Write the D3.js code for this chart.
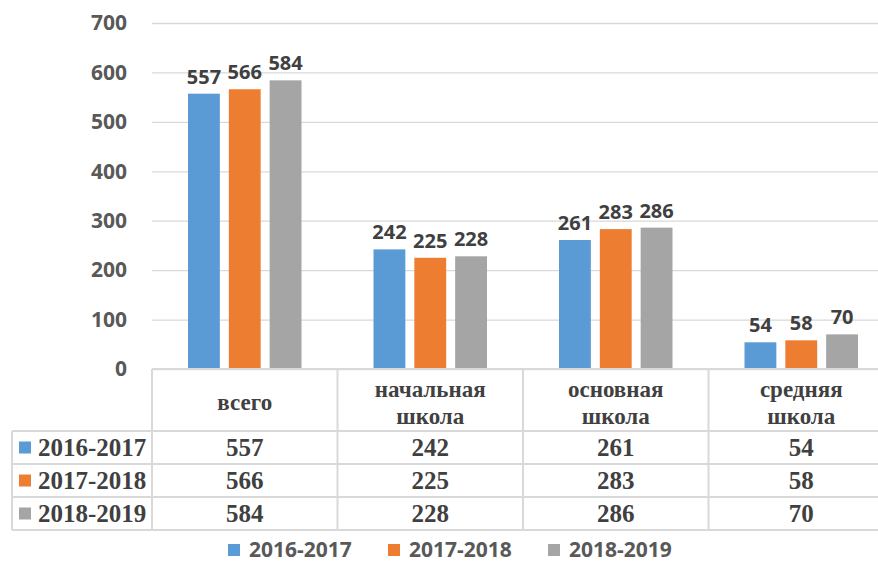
<!DOCTYPE html>
<html>
<head>
<meta charset="utf-8">
<script src="https://cdn.jsdelivr.net/npm/d3@7"></script>
<style>
  body { margin: 0; background: #fff; }
  svg { display: block; }
</style>
</head>
<body>
<div id="container"></div>
<script>
'use strict';
(function() {
    // chart data
    var categories = ['всего', 'начальная школа', 'основная школа', 'средняя школа'];
    var categoryLines = [['всего'], ['начальная', 'школа'], ['основная', 'школа'], ['средняя', 'школа']];
    var seriesNames = ['2016-2017', '2017-2018', '2018-2019'];
    var values2016 = [557, 242, 261, 54];
    var values2017 = [566, 225, 283, 58];
    var values2018 = [584, 228, 286, 70];
    var yTicks = [0, 100, 200, 300, 400, 500, 600, 700];
    var colors = ['#5B9BD5', '#ED7D31', '#A5A5A5'];

    var allValues = [values2016, values2017, values2018];

    var width = 878, height = 565;
    var plotLeft = 152, plotTop = 23, plotBottom = 369;
    var catWidth = 185.5;
    var rowH = 33, headerBottom = 431, tableLeft = 12;
    var lineColor = '#d9d9d9';
    var sansFont = '"Open Sans", sans-serif';
    var serifFont = '"Liberation Serif", "Times New Roman", serif';

    var svg = d3.select('#container').append('svg')
        .attr('width', width)
        .attr('height', height);

    var y = d3.scaleLinear().domain([0, 700]).range([plotBottom, plotTop]);
    var x0 = d3.scaleBand().domain(categories)
        .range([plotLeft, plotLeft + catWidth * categories.length]);
    var x1 = d3.scaleBand().domain(seriesNames)
        .range([36, catWidth - 36]).paddingInner(0.22);

    // gridlines + y labels
    var yAxis = d3.axisLeft(y).tickValues(yTicks).tickSize(-(width - plotLeft)).tickPadding(25);
    var gAxis = svg.append('g')
        .attr('transform', 'translate(' + plotLeft + ',0)')
        .call(yAxis);
    gAxis.select('.domain').remove();
    gAxis.selectAll('.tick line').attr('stroke', lineColor).attr('stroke-width', 1.3);
    gAxis.selectAll('.tick text')
        .attr('fill', '#595959')
        .style('font-family', sansFont)
        .style('font-weight', 'bold')
        .style('font-size', '21px');

    // bars
    var groups = svg.selectAll('.cat')
        .data(categories)
        .enter().append('g')
        .attr('class', 'cat')
        .attr('transform', function(d) { return 'translate(' + x0(d) + ',0)'; });

    groups.each(function(cat, ci) {
        var g = d3.select(this);
        var rows = seriesNames.map(function(s, si) {
            return { series: s, value: allValues[si][ci], color: colors[si] };
        });
        g.selectAll('rect').data(rows).enter().append('rect')
            .attr('x', function(d) { return x1(d.series); })
            .attr('y', function(d) { return y(d.value); })
            .attr('width', x1.bandwidth())
            .attr('height', function(d) { return y(0) - y(d.value); })
            .attr('fill', function(d) { return d.color; });
        g.selectAll('text.lbl').data(rows).enter().append('text')
            .attr('class', 'lbl')
            .attr('x', function(d) { return x1(d.series) + x1.bandwidth() / 2; })
            .attr('y', function(d) { return y(d.value) - 10; })
            .attr('text-anchor', 'middle')
            .attr('fill', '#404040')
            .style('font-family', sansFont)
            .style('font-weight', 'bold')
            .style('font-size', '20px')
            .text(function(d) { return d.value; });
    });

    // data table
    var table = svg.append('g');
    var right = width + 20;
    table.append('line')
        .attr('x1', plotLeft).attr('x2', right)
        .attr('y1', plotBottom).attr('y2', plotBottom)
        .attr('stroke', lineColor).attr('stroke-width', 2);
    for (var r = 0; r <= seriesNames.length; r++) {
        table.append('line')
            .attr('x1', tableLeft).attr('x2', right)
            .attr('y1', headerBottom + r * rowH).attr('y2', headerBottom + r * rowH)
            .attr('stroke', lineColor).attr('stroke-width', 2);
    }
    table.append('line')
        .attr('x1', tableLeft).attr('x2', tableLeft)
        .attr('y1', headerBottom).attr('y2', headerBottom + 3 * rowH)
        .attr('stroke', lineColor).attr('stroke-width', 2);
    categories.forEach(function(c) {
        table.append('line')
            .attr('x1', x0(c)).attr('x2', x0(c))
            .attr('y1', plotBottom).attr('y2', headerBottom + 3 * rowH)
            .attr('stroke', lineColor).attr('stroke-width', 2);
    });

    // header labels
    categories.forEach(function(c, ci) {
        var lines = categoryLines[ci];
        var cy = (plotBottom + headerBottom) / 2 + 2;
        var lh = 27;
        var t = table.append('text')
            .attr('text-anchor', 'middle')
            .attr('fill', '#404040')
            .style('font-family', serifFont)
            .style('font-weight', 'bold')
            .style('font-size', '23px');
        lines.forEach(function(line, li) {
            t.append('tspan')
                .attr('x', x0(c) + catWidth / 2)
                .attr('y', cy + (li - (lines.length - 1) / 2) * lh)
                .attr('dy', '0.35em')
                .text(line);
        });
    });

    // table rows
    seriesNames.forEach(function(s, si) {
        var cy = headerBottom + si * rowH + rowH / 2;
        table.append('rect')
            .attr('x', 19).attr('y', cy - 6)
            .attr('width', 12).attr('height', 12)
            .attr('fill', colors[si]);
        table.append('text')
            .attr('x', 38).attr('y', cy).attr('dy', '0.35em')
            .attr('fill', '#404040')
            .style('font-family', serifFont)
            .style('font-weight', 'bold')
            .style('font-size', '25px')
            .text(s);
        categories.forEach(function(c, ci) {
            table.append('text')
                .attr('x', x0(c) + catWidth / 2).attr('y', cy).attr('dy', '0.35em')
                .attr('text-anchor', 'middle')
                .attr('fill', '#404040')
                .style('font-family', serifFont)
                .style('font-weight', 'bold')
                .style('font-size', '25px')
                .text(allValues[si][ci]);
        });
    });

    // legend
    var legend = svg.append('g').attr('transform', 'translate(228,550)');
    var items = legend.selectAll('g').data(seriesNames).enter().append('g')
        .attr('transform', function(d, i) { return 'translate(' + (i * 160) + ',0)'; });
    items.append('rect')
        .attr('x', 0).attr('y', -6).attr('width', 12).attr('height', 12)
        .attr('fill', function(d, i) { return colors[i]; });
    items.append('text')
        .attr('x', 21).attr('y', 0).attr('dy', '0.35em')
        .attr('fill', '#595959')
        .style('font-family', sansFont)
        .style('font-weight', 'bold')
        .style('font-size', '21px')
        .text(function(d) { return d; });
})();
</script>
</body>
</html>
